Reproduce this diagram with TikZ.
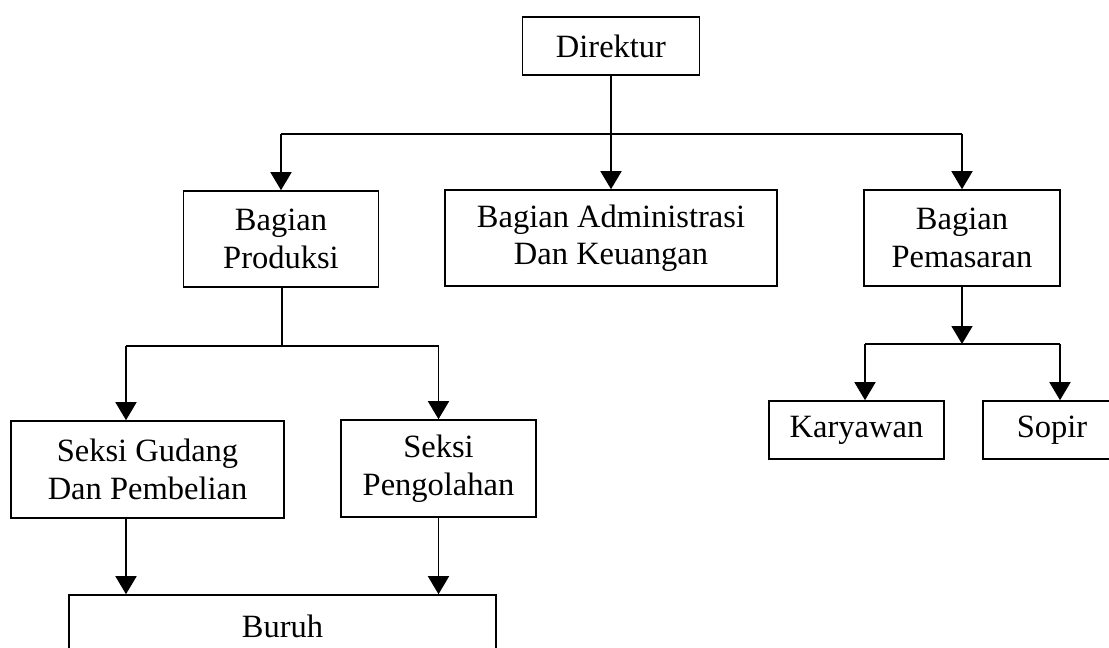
\documentclass[tikz,border=0pt]{standalone}
\usepackage{fontspec}
\setmainfont{Liberation Serif}
\usetikzlibrary{arrows.meta}
\begin{document}
\begin{tikzpicture}[x=1pt,y=-1pt,
  box/.style={draw,line width=1.6pt,rectangle,inner sep=0pt,align=center,
    font=\fontsize{32.5}{37.5}\selectfont},
  conn/.style={line width=1.6pt},
  arr/.style={line width=1.6pt,-{Triangle[length=18pt,width=21pt]}}]
\clip (0,0) rectangle (1109,648);
\fill[white] (0,0) rectangle (1109,648);
% nodes
\node[box,minimum width=177pt,minimum height=58pt] (dir) at (611,46) {Direktur};
\node[box,minimum width=195pt,minimum height=96pt] (prod) at (281,239) {Bagian\\Produksi};
\node[box,minimum width=332pt,minimum height=96pt] (adm) at (611,238) {Bagian Administrasi\\Dan Keuangan};
\node[box,minimum width=196pt,minimum height=96pt] (pem) at (962,238) {Bagian\\Pemasaran};
\node[box,minimum width=273pt,minimum height=97pt] (gud) at (147.5,469.5) {Seksi Gudang\\Dan Pembelian};
\node[box,minimum width=195pt,minimum height=97pt] (olah) at (438.5,468.5) {Seksi\\Pengolahan};
\node[box,minimum width=427pt,minimum height=62pt] (bur) at (282.5,626) {Buruh};
\node[box,minimum width=175pt,minimum height=58pt] (kar) at (856.5,430) {Karyawan};
\node[box,minimum width=138pt,minimum height=58pt] (sop) at (1052,430) {Sopir};
% coordinates
\coordinate (hL) at (281,134);
\coordinate (hM) at (611,134);
\coordinate (hR) at (962,134);
\coordinate (pM) at (282,346);
\coordinate (pL) at (126,346);
\coordinate (pR) at (438.5,346);
\coordinate (mM) at (962,344);
\coordinate (mL) at (865,344);
\coordinate (mR) at (1060,344);
% connectors
\draw[conn] (hL) -- (hR);
\draw[arr] (dir.south) -- (adm.north);
\draw[arr] (hL) -- (prod.north);
\draw[arr] (hR) -- (pem.north);
\draw[conn] (prod.south -| pM) -- (pM);
\draw[conn] (pL) -- (pR);
\draw[arr] (pL) -- (pL |- gud.north);
\draw[arr] (pR) -- (olah.north);
\draw[arr] (gud.south -| pL) -- (pL |- bur.north);
\draw[arr] (olah.south) -- (pR |- bur.north);
\draw[arr] (pem.south) -- (mM);
\draw[conn] (mL) -- (mR);
\draw[arr] (mL) -- (mL |- kar.north);
\draw[arr] (mR) -- (mR |- sop.north);
\end{tikzpicture}
\end{document}
